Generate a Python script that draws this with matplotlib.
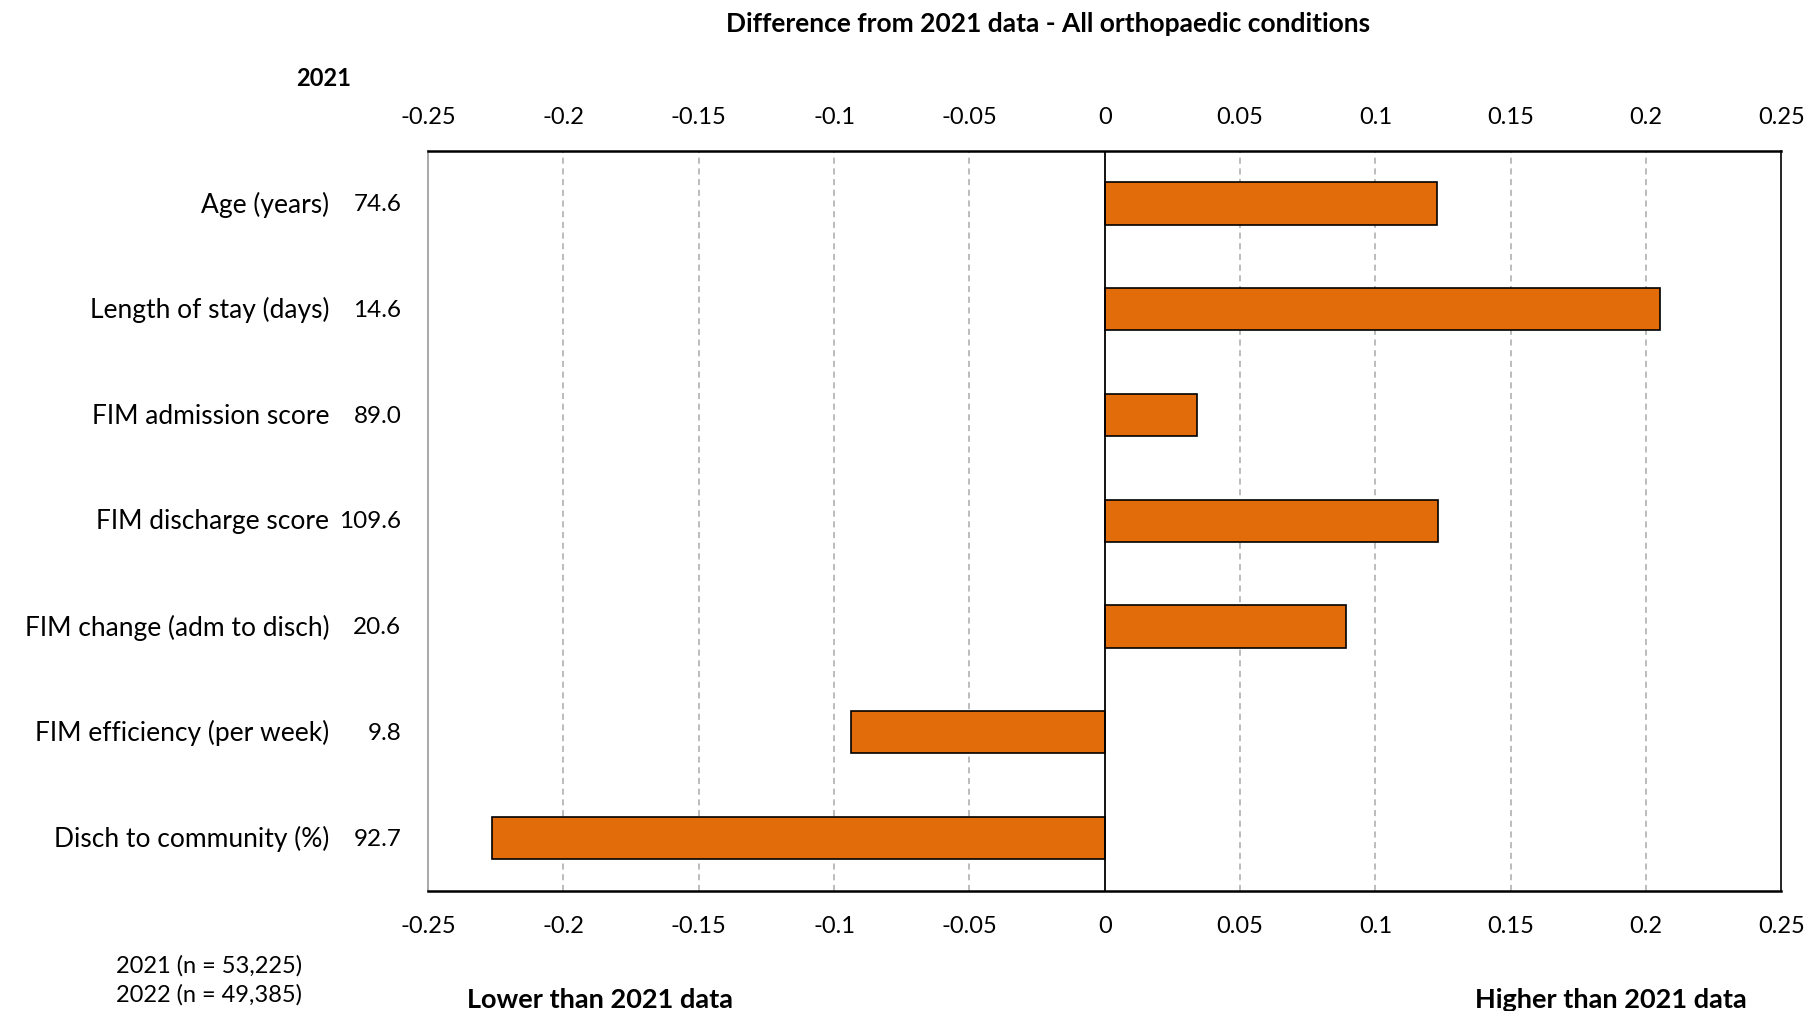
import matplotlib
matplotlib.use('Agg')
import matplotlib.pyplot as plt
import matplotlib.transforms as mtransforms

plt.rcParams['font.family'] = ['Lato', 'DejaVu Sans']

categories = ['Age (years)', 'Length of stay (days)', 'FIM admission score',
              'FIM discharge score', 'FIM change (adm to disch)',
              'FIM efficiency (per week)', 'Disch to community (%)']
values_2021 = ['74.6', '14.6', '89.0', '109.6', '20.6', '9.8', '92.7']
diffs = [0.1226, 0.2052, 0.0342, 0.1231, 0.0893, -0.0936, -0.2264]
ticks = [-0.25, -0.2, -0.15, -0.1, -0.05, 0, 0.05, 0.1, 0.15, 0.2, 0.25]
tick_labels = ['-0.25', '-0.2', '-0.15', '-0.1', '-0.05', '0', '0.05', '0.1', '0.15', '0.2', '0.25']

fig = plt.figure(figsize=(18.14, 10.12), dpi=100)
ax = fig.add_axes([0.236, 0.1186, 0.746, 0.7316])

y = list(range(len(categories)))
ax.barh(y, diffs, height=0.4, color='#E36C0A', edgecolor='black', linewidth=1.2, zorder=3)

ax.set_xlim(-0.25, 0.25)
ax.set_ylim(len(categories) - 0.5, -0.5)

# grid lines
for t in ticks[1:-1]:
    if t == 0:
        ax.axvline(0, color='black', lw=1.3, zorder=4)
    else:
        ax.axvline(t, color='#aaaaaa', lw=1.1, ls=(0, (4, 3)), zorder=1)

ax.set_xticks(ticks)
ax.set_xticklabels(tick_labels)
ax.tick_params(axis='x', length=0, labelsize=17, pad=17, top=True, labeltop=True)
ax.set_yticks([])

ax.spines['top'].set_linewidth(1.8)
ax.spines['bottom'].set_linewidth(1.8)
ax.spines['right'].set_linewidth(1.2)
ax.spines['left'].set_color('#999999')
ax.spines['left'].set_linewidth(1.2)

trans = mtransforms.blended_transform_factory(fig.transFigure, ax.transData)
for i, (name, val) in enumerate(zip(categories, values_2021)):
    fig.text(0.1815, i, name, transform=trans, ha='right', va='center', fontsize=19)
    fig.text(0.2212, i, val, transform=trans, ha='right', va='center', fontsize=17.5)

fig.text(0.1785, 0.922, '2021', ha='center', va='center', fontsize=17, fontweight='bold')
fig.text(0.578, 0.976, 'Difference from 2021 data - All orthopaedic conditions',
         ha='center', va='center', fontsize=19, fontweight='bold')

fig.text(0.064, 0.046, '2021 (n = 53,225)', ha='left', va='center', fontsize=17)
fig.text(0.064, 0.017, '2022 (n = 49,385)', ha='left', va='center', fontsize=17)
fig.text(0.331, 0.012, 'Lower than 2021 data', ha='center', va='center', fontsize=19.5, fontweight='bold')
fig.text(0.888, 0.012, 'Higher than 2021 data', ha='center', va='center', fontsize=19.5, fontweight='bold')

fig.savefig('out.png', dpi=100)
